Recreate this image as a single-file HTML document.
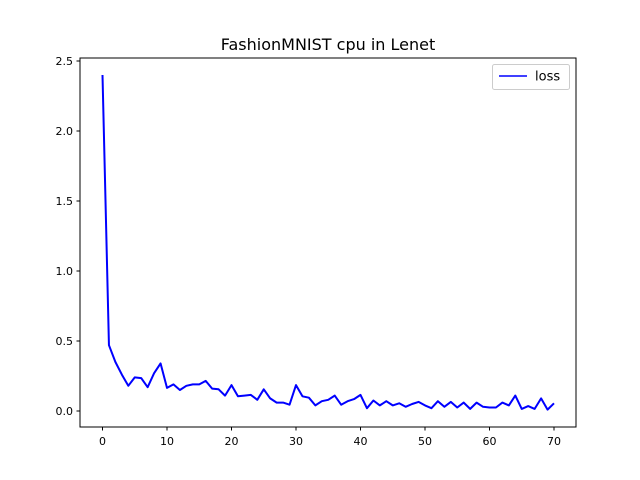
<!DOCTYPE html>
<html><head><meta charset="utf-8"><style>
body{margin:0;background:#fff;}
svg{display:block;font-family:"DejaVu Sans","Liberation Sans",sans-serif;}
</style></head><body>
<svg id="chart" width="640" height="480">
<rect width="640" height="480" fill="#fff"/>
<text x="328" y="50" font-size="16" text-anchor="middle">FashionMNIST cpu in Lenet</text>
<g id="axes"></g>
<rect x="80" y="58" width="496" height="369" fill="none" stroke="#000" stroke-width="1"/>
<g>
<rect x="492.5" y="64.5" width="77" height="25" rx="2" fill="#fff" stroke="#ccc"/>
<line x1="499" y1="76" x2="527" y2="76" stroke="#0000ff" stroke-width="1.5"/>
<text x="535" y="80.5" font-size="13">loss</text>
</g>
</svg>
<script>
const epochs=[0,1,2,3,4,5,6,7,8,9,10,11,12,13,14,15,16,17,18,19,20,21,22,23,24,25,26,27,28,29,30,31,32,33,34,35,36,37,38,39,40,41,42,43,44,45,46,47,48,49,50,51,52,53,54,55,56,57,58,59,60,61,62,63,64,65,66,67,68,69,70];
const loss=[2.40,0.47,0.35,0.26,0.18,0.24,0.235,0.17,0.27,0.34,0.165,0.19,0.15,0.18,0.19,0.19,0.215,0.16,0.155,0.11,0.185,0.105,0.11,0.115,0.08,0.155,0.09,0.06,0.06,0.045,0.185,0.105,0.095,0.04,0.07,0.08,0.11,0.045,0.07,0.085,0.115,0.02,0.075,0.04,0.07,0.04,0.055,0.03,0.05,0.065,0.04,0.02,0.07,0.03,0.065,0.025,0.06,0.015,0.06,0.03,0.025,0.025,0.06,0.04,0.11,0.015,0.035,0.015,0.09,0.01,0.055];
const xTicks=[0,10,20,30,40,50,60,70];
const yTicks=[0,0.5,1.0,1.5,2.0,2.5];
const yTickLabels=["0.0","0.5","1.0","1.5","2.0","2.5"];
const NS="http://www.w3.org/2000/svg";
const X=v=>102.5+v*(554-102.5)/70;
const Y=v=>411+-v*(411-61)/2.5;
const g=document.getElementById('axes');
function mk(t,a){const e=document.createElementNS(NS,t);for(const k in a)e.setAttribute(k,a[k]);return e;}
xTicks.forEach(t=>{
  const l=mk('line',{x1:X(t),x2:X(t),y1:427,y2:430.5,stroke:'#000'});
  
  
  g.appendChild(l);
  const tx=mk('text',{x:X(t),y:445,'font-size':11,'text-anchor':'middle'});
  tx.textContent=t;
  
  
  g.appendChild(tx);
});
yTicks.forEach((t,i)=>{
  const l=mk('line',{x1:76.5,x2:80,y1:Y(t),y2:Y(t),stroke:'#000'});
  
  
  g.appendChild(l);
  const tx=mk('text',{x:73,y:Y(t)+4,'font-size':11,'text-anchor':'end'});
  tx.textContent=yTickLabels[i];
  
  
  g.appendChild(tx);
});
const p=mk('polyline',{points:epochs.map((e,i)=>X(e)+','+Y(loss[i])).join(' '),fill:'none',stroke:'#0000ff','stroke-width':2,'stroke-linejoin':'round'});


g.appendChild(p);
</script>
</body></html>
